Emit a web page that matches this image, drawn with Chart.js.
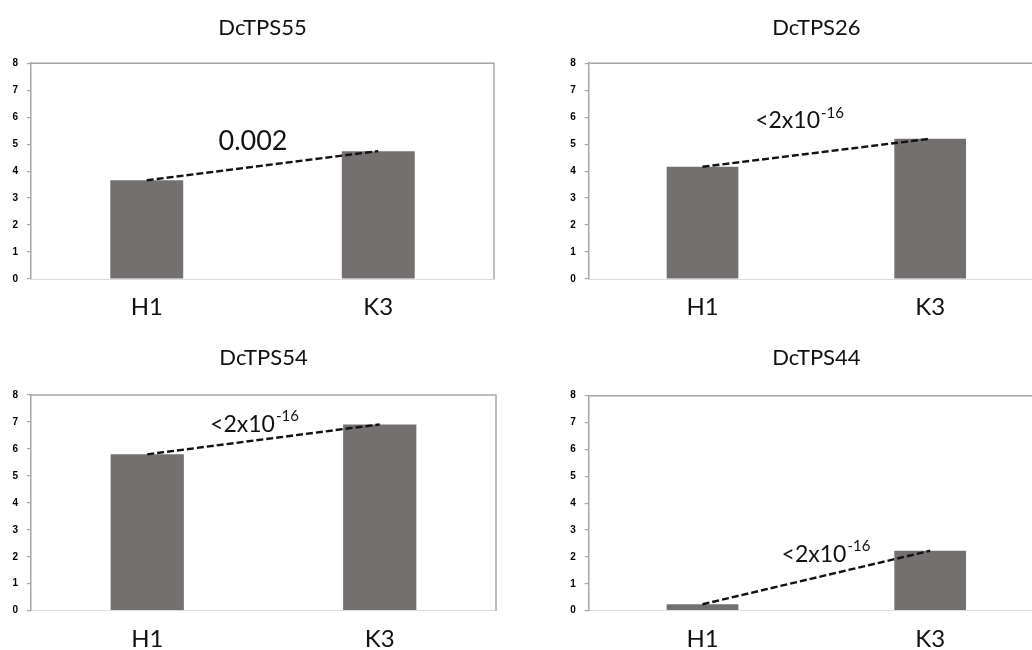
<!DOCTYPE html>
<html><head><meta charset="utf-8">
<script src="https://cdn.jsdelivr.net/npm/chart.js@4.4.1/dist/chart.umd.min.js"></script>
<style>
html,body{margin:0;padding:0;background:#fff;overflow:hidden;width:1032px;height:650px;position:relative}
canvas{position:absolute}
</style></head><body>
<canvas id="c0" width="516" height="325" style="left:0;top:0"></canvas>
<canvas id="c1" width="540" height="325" style="left:516px;top:0"></canvas>
<canvas id="c2" width="516" height="325" style="left:0;top:325px"></canvas>
<canvas id="c3" width="540" height="325" style="left:516px;top:325px"></canvas>
<script>
// ---- data ----
const genes = ['DcTPS55', 'DcTPS26', 'DcTPS54', 'DcTPS44'];
const categories = ['H1', 'K3'];
const valuesDcTPS55 = [3.66, 4.74];
const valuesDcTPS26 = [4.16, 5.20];
const valuesDcTPS54 = [5.80, 6.91];
const valuesDcTPS44 = [0.24, 2.23];
const pValueMain = ['0.002', '<2x10', '<2x10', '<2x10'];
const pValueExp = ['', '-16', '-16', '-16'];
const yMin = 0, yMax = 8, yStep = 1;

const seriesByPanel = [valuesDcTPS55, valuesDcTPS26, valuesDcTPS54, valuesDcTPS44];

// ---- layout / style per panel ----
const panels = [
  {id:'c0', axisW:31,   padR:22, titleTop:15, titleBottom:21.8, xAxisH:46,   xPad:14, pFrac:0.459, pBase:4.78, pSize:27},
  {id:'c1', axisW:72.7, padR:12, titleTop:15, titleBottom:21.8, xAxisH:46,   xPad:14, pFrac:0.424, pBase:5.60, pSize:23},
  {id:'c2', axisW:31,   padR:20, titleTop:20, titleBottom:23.6, xAxisH:39.3, xPad:14, pFrac:0.459, pBase:6.64, pSize:23},
  {id:'c3', axisW:72.7, padR:12, titleTop:20, titleBottom:24.3, xAxisH:39.3, xPad:14, pFrac:0.540, pBase:1.82, pSize:23}
];

const framePlugin = {
  id: 'frame',
  beforeDatasetsDraw(chart) {
    const {ctx, chartArea: a} = chart;
    ctx.save();
    ctx.strokeStyle = '#a6a6a6';
    ctx.lineWidth = 1.5;
    ctx.beginPath();
    ctx.moveTo(a.left, a.top);
    ctx.lineTo(a.right, a.top);
    ctx.lineTo(a.right, a.bottom);
    ctx.stroke();
    ctx.restore();
  }
};

function makePPlugin(i, p) {
  return {
    id: 'pval' + i,
    afterDatasetsDraw(chart) {
      const {ctx, scales: {x, y}} = chart;
      const x0 = x.getPixelForValue(0), x1 = x.getPixelForValue(1);
      const cx = x0 + (x1 - x0) * p.pFrac;
      const by = y.getPixelForValue(p.pBase);
      const mainFont = p.pSize + 'px Lato';
      const expSize = Math.round(p.pSize * 0.65);
      const expFont = expSize + 'px Lato';
      ctx.save();
      ctx.fillStyle = '#111';
      ctx.textBaseline = 'alphabetic';
      ctx.textAlign = 'left';
      ctx.font = mainFont;
      const wMain = ctx.measureText(pValueMain[i]).width;
      ctx.font = expFont;
      const wExp = pValueExp[i] ? ctx.measureText(pValueExp[i]).width : 0;
      const left = cx - (wMain + wExp) / 2;
      ctx.font = mainFont;
      ctx.fillText(pValueMain[i], left, by);
      if (pValueExp[i]) {
        ctx.font = expFont;
        ctx.fillText(pValueExp[i], left + wMain + 1, by - p.pSize * 0.45);
      }
      ctx.restore();
    }
  };
}

function makeChart(i) {
  const p = panels[i];
  const values = seriesByPanel[i];
  return new Chart(document.getElementById(p.id), {
    type: 'bar',
    data: {
      labels: categories,
      datasets: [
        {type: 'line', data: values, borderColor: '#111', borderWidth: 2.4, borderDash: [7, 3],
         pointRadius: 0, fill: false, tension: 0, order: 0},
        {type: 'bar', data: values, backgroundColor: '#757070', borderWidth: 0,
         barPercentage: 0.315, categoryPercentage: 1, order: 1}
      ]
    },
    options: {
      responsive: false, animation: false, devicePixelRatio: 1,
      layout: {padding: {left: 0, right: p.padR, top: 0, bottom: 0}},
      plugins: {
        legend: {display: false},
        tooltip: {enabled: false},
        title: {display: true, text: genes[i], fullSize: false, color: '#111',
                font: {family: 'Lato', size: 22, weight: 'normal', lineHeight: 1.2},
                padding: {top: p.titleTop, bottom: p.titleBottom}}
      },
      scales: {
        x: {
          grid: {display: false, drawTicks: false},
          border: {color: '#dcdcdc', width: 1},
          ticks: {font: {family: 'Lato', size: 24}, color: '#111', padding: p.xPad, maxRotation: 0},
          afterFit(s) { s.height = p.xAxisH; }
        },
        y: {
          min: yMin, max: yMax,
          ticks: {stepSize: yStep, font: {family: 'Liberation Sans', size: 10, weight: 'bold'}, color: '#000', padding: 9},
          grid: {drawOnChartArea: false, drawTicks: true, tickLength: 4, color: '#a6a6a6', lineWidth: 1.2},
          border: {color: '#a6a6a6', width: 1.5},
          afterFit(s) { s.width = p.axisW; }
        }
      }
    },
    plugins: [framePlugin, makePPlugin(i, p)]
  });
}

for (let i = 0; i < panels.length; i++) makeChart(i);
</script>
</body></html>
